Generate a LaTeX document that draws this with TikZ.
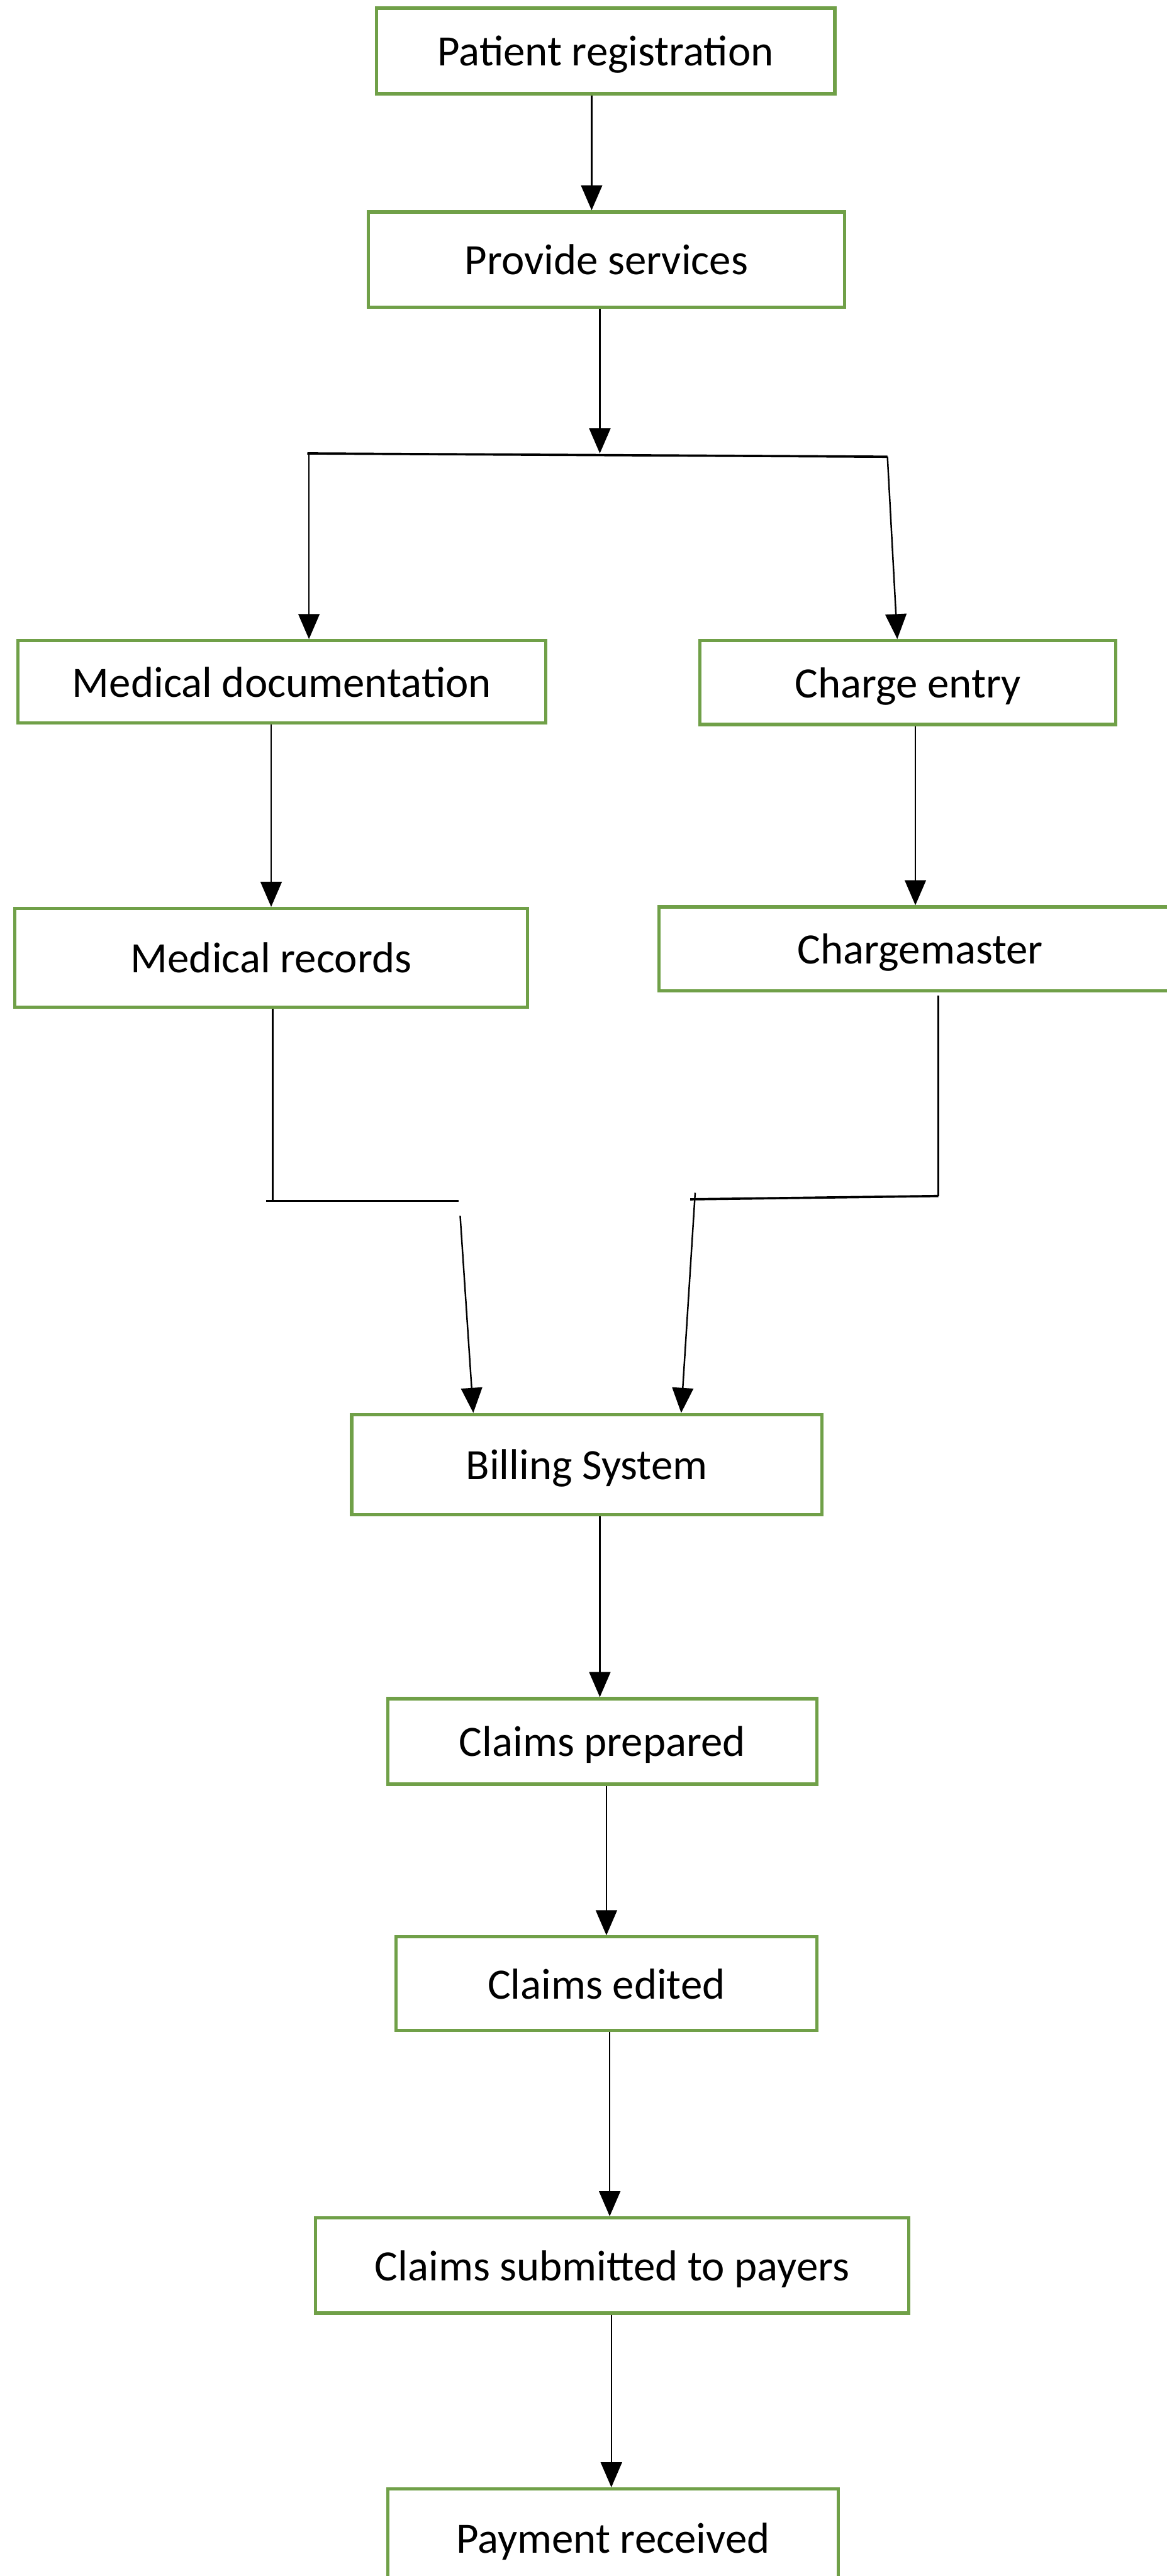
\documentclass[tikz,border=0pt]{standalone}
\usepackage{fontspec}
\setmainfont{Carlito}
\usetikzlibrary{arrows.meta,calc}
\definecolor{boxgreen}{RGB}{112,160,72}

\begin{document}
\begin{tikzpicture}[x=0.03cm, y=-0.03cm]
	\tikzstyle{every node}=[inner sep=0pt, align=center, font=\fontsize{22.5}{27}\selectfont]
	\tikzstyle{stage}=[draw=boxgreen, line width=1.7pt, fill=white, text depth=0pt]
	\tikzstyle{arr}=[-{Triangle[length=13pt, width=11pt]}, line width=0.8pt]
	\useasboundingbox (0,0) rectangle (710,1568);
	\fill[white] (0,0) rectangle (710,1568);
	% boxes
	\node[stage, minimum width=8.37cm, minimum height=1.56cm] (preg) at (368.5, 31) {Patient registration};
	\node[stage, minimum width=8.7cm, minimum height=1.74cm] (serv) at (369, 158) {Provide services};
	\node[stage, minimum width=9.63cm, minimum height=1.5cm] (meddoc) at (171.5, 415) {Medical documentation};
	\node[stage, minimum width=7.59cm, minimum height=1.53cm] (charge) at (552.5, 415.5) {Charge entry};
	\node[stage, minimum width=9.36cm, minimum height=1.8cm] (medrec) at (165, 583) {Medical records};
	\node[stage, minimum width=9.54cm, minimum height=1.53cm] (cmaster) at (560, 577.5) {Chargemaster};
	\node[stage, minimum width=8.58cm, minimum height=1.83cm] (billing) at (357, 891.5) {Billing System};
	\node[stage, minimum width=7.83cm, minimum height=1.56cm] (cprep) at (366.5, 1060) {Claims prepared};
	\node[stage, minimum width=7.68cm, minimum height=1.71cm] (cedit) at (369, 1207.5) {Claims edited};
	\node[stage, minimum width=10.83cm, minimum height=1.74cm] (csub) at (372.5, 1379) {Claims submitted to payers};
	\node[stage, minimum width=8.22cm, minimum height=1.8cm] (pay) at (373, 1545) {Payment received};
	% junction points
	\coordinate (split) at (365, 276);
	\coordinate (splitL) at (187, 276);
	\coordinate (splitR) at (540, 278);
	\coordinate (recL) at (166, 731);
	\coordinate (recR) at (279, 731);
	\coordinate (recD) at (280, 740);
	\coordinate (cmR) at (571, 728);
	\coordinate (cmL) at (420, 730);
	\coordinate (cmD) at (423, 726);
	% connectors
	\draw[arr] ($(preg.south)+(-8.5,0)$) -- ($(serv.north)+(-9,0)$);
	\draw[arr] ($(serv.south)+(-4,0)$) -- (split);
	\draw[line width=1.2pt] (splitL) -- (splitR);
	\draw[arr] ($(splitL)+(1,0)$) -- ($(meddoc.north)+(16.5,0)$);
	\draw[arr] (splitR) -- ($(charge.north)+(-6.5,0)$);
	\draw[arr] ($(meddoc.south)+(-6.5,0)$) -- (medrec.north);
	\draw[arr] ($(charge.south)+(4.5,0)$) -- ($(cmaster.north)+(-3,0)$);
	\draw[line width=0.8pt] ($(medrec.south)+(1,0)$) -- (recL);
	\draw[line width=1.2pt] ($(recL)+(-4,0)$) -- (recR);
	\draw[arr] (recD) -- ($(billing.north)+(-69,0)$);
	\draw[line width=0.8pt] ($(cmaster.south)+(11,2)$) -- (cmR);
	\draw[line width=1.2pt] (cmR) -- (cmL);
	\draw[arr] (cmD) -- ($(billing.north)+(57.5,0)$);
	\draw[arr] ($(billing.south)+(8,0)$) -- ($(cprep.north)+(-1.5,0)$);
	\draw[arr] ($(cprep.south)+(2.5,0)$) -- (cedit.north);
	\draw[arr] ($(cedit.south)+(2,0)$) -- ($(csub.north)+(-1.5,0)$);
	\draw[arr] ($(csub.south)+(-0.5,0)$) -- ($(pay.north)+(-1,0)$);
\end{tikzpicture}
\end{document}
